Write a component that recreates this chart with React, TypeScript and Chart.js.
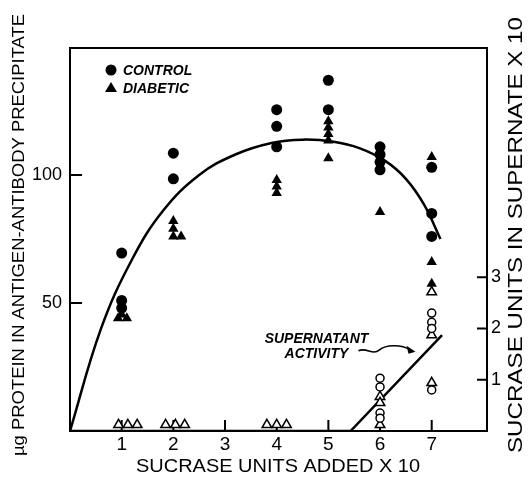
import React, { useEffect, useRef } from "react";
import { Chart, registerables } from "chart.js";

Chart.register(...registerables);

// ---- tick labels ----
const xTickValues = [1, 2, 3, 4, 5, 6, 7];
const leftTickValues = [50, 100];
const rightTickValues = [1, 2, 3];

// ---- Control (filled circles), µg protein in precipitate ----
const controlX = [1, 1, 1, 2, 2, 4, 4, 4, 5, 5, 6, 6, 6, 6, 7, 7, 7];
const controlY = [69.5, 51, 48, 108.5, 98.5, 125.5, 119, 111, 137, 125.5, 111, 108, 105, 102, 103, 85, 76];

// ---- Diabetic (filled triangles), µg protein in precipitate ----
const diabeticX = [0.93, 1, 1.1, 2, 2, 2, 2.15, 4, 4, 4, 5, 5, 5, 5, 5, 6, 7, 7, 7];
const diabeticY = [44, 45.5, 44, 82, 79, 76, 76, 98, 95.5, 93, 121, 118.5, 116, 113.5, 106.5, 85.5, 107, 66, 57.5];

// ---- Supernatant sucrase units x10 (right axis) ----
const controlSupX = [6, 6, 6, 6, 7, 7, 7, 7];
const controlSupY = [1.03, 0.86, 0.35, 0.25, 2.3, 2.12, 2.0, 0.8];
const diabeticSupX = [0.94, 1.12, 1.3, 1.85, 2.04, 2.22, 3.81, 4.0, 4.19, 6, 6, 6, 7, 7, 7];
const diabeticSupY = [0.12, 0.12, 0.12, 0.12, 0.12, 0.12, 0.12, 0.12, 0.12, 0.67, 0.55, 0.12, 2.71, 1.87, 0.94];

// ---- drawn curves ----
const curveX = [0, 0.6, 1.2, 1.8, 2.5, 3.2, 3.9, 4.5, 5.1, 5.6, 6.1, 6.5, 6.85, 7.17];
const curveY = [0, 40, 67, 86, 100, 108, 112.5, 113.8, 113, 110.5, 105.5, 98.5, 88.5, 75];
const supLineX = [0, 5.43, 7.2];
const supLineY = [0, 0, 1.87];

const FONT = "'Liberation Sans', Arial, sans-serif";

const pts = (xs: number[], ys: number[]) => xs.map((x, i) => ({ x, y: ys[i] }));

function stretchedText(ctx: any, text: string, x: number, y: number, width: number, rot: number) {
  ctx.save();
  ctx.translate(x, y);
  ctx.rotate(rot);
  const w = ctx.measureText(text).width;
  ctx.scale(width / w, 1);
  ctx.fillText(text, 0, 0);
  ctx.restore();
}

const decor = {
  id: "decor",
  beforeDatasetsDraw(chart: any) {
    const { ctx, chartArea: a, scales } = chart;
    ctx.save();
    ctx.strokeStyle = "#000";
    ctx.lineWidth = 2;
    ctx.strokeRect(a.left, a.top, a.right - a.left, a.bottom - a.top);
    ctx.beginPath();
    xTickValues.forEach((v) => {
      const p = scales.x.getPixelForValue(v);
      ctx.moveTo(p, a.bottom);
      ctx.lineTo(p, a.bottom - 11);
    });
    leftTickValues.forEach((v) => {
      const p = scales.y.getPixelForValue(v);
      ctx.moveTo(a.left, p);
      ctx.lineTo(a.left + 12, p);
    });
    rightTickValues.forEach((v) => {
      const p = scales.y2.getPixelForValue(v);
      ctx.moveTo(a.right, p);
      ctx.lineTo(a.right - 10, p);
    });
    ctx.stroke();
    ctx.restore();
  },
  afterDraw(chart: any) {
    const { ctx, chartArea: a, scales } = chart;
    ctx.save();
    ctx.fillStyle = "#000";
    ctx.strokeStyle = "#000";

    // tick labels
    ctx.textBaseline = "middle";
    ctx.font = `19px ${FONT}`;
    ctx.textAlign = "center";
    xTickValues.forEach((v) => {
      ctx.fillText(String(v), scales.x.getPixelForValue(v), a.bottom + 14);
    });
    ctx.font = `18px ${FONT}`;
    ctx.textAlign = "right";
    leftTickValues.forEach((v) => {
      ctx.fillText(String(v), a.left - 8, scales.y.getPixelForValue(v));
    });
    ctx.textAlign = "left";
    rightTickValues.forEach((v) => {
      ctx.fillText(String(v), a.right + 4, scales.y2.getPixelForValue(v));
    });

    // axis titles
    ctx.textAlign = "center";
    ctx.font = `17px ${FONT}`;
    stretchedText(ctx, "\u00b5g PROTEIN IN ANTIGEN-ANTIBODY PRECIPITATE", 19, 235, 442, -Math.PI / 2);
    ctx.font = `21px ${FONT}`;
    stretchedText(ctx, "SUCRASE UNITS IN SUPERNATE X 10", 516, 235, 436, -Math.PI / 2);
    ctx.font = `19px ${FONT}`;
    stretchedText(ctx, "SUCRASE UNITS ADDED X 10", 278, 467, 284, 0);

    // legend
    const lx = a.left + 41;
    const ly1 = a.top + 22;
    const ly2 = a.top + 40;
    ctx.beginPath();
    ctx.arc(lx, ly1, 5.5, 0, Math.PI * 2);
    ctx.fill();
    ctx.beginPath();
    ctx.moveTo(lx, ly2 - 6);
    ctx.lineTo(lx + 6, ly2 + 4);
    ctx.lineTo(lx - 6, ly2 + 4);
    ctx.closePath();
    ctx.fill();
    ctx.textAlign = "left";
    ctx.font = `italic bold 14px ${FONT}`;
    ctx.fillText("CONTROL", lx + 12, ly1 + 1);
    ctx.fillText("DIABETIC", lx + 12, ly2 + 1);

    // annotation "SUPERNATANT ACTIVITY"
    const ax = scales.x.getPixelForValue(4.77);
    const ay = scales.y.getPixelForValue(36);
    ctx.textAlign = "center";
    ctx.fillText("SUPERNATANT", ax, ay);
    ctx.fillText("ACTIVITY", ax, ay + 15);
    // wavy arrow
    const sx = ax + 42;
    const sy = ay + 12;
    ctx.lineWidth = 1.6;
    ctx.beginPath();
    ctx.moveTo(sx, sy);
    ctx.bezierCurveTo(sx + 8, sy - 4, sx + 14, sy + 5, sx + 21, sy - 1);
    ctx.bezierCurveTo(sx + 27, sy - 6, sx + 42, sy - 7, sx + 52, sy - 1);
    ctx.stroke();
    const tx = sx + 57;
    const ty = sy + 1;
    ctx.beginPath();
    ctx.moveTo(tx, ty);
    ctx.lineTo(tx - 9, ty - 6);
    ctx.lineTo(tx - 7, ty + 2);
    ctx.closePath();
    ctx.fill();
    ctx.restore();
  },
};

export default function App() {
  const ref = useRef<HTMLCanvasElement | null>(null);
  useEffect(() => {
    document.body.style.margin = "0";
    const canvas = ref.current!;
    const hidden = { display: false };
    const chart = new Chart(canvas, {
      type: "scatter",
      data: {
        datasets: [
          {
            label: "Control",
            data: pts(controlX, controlY),
            yAxisID: "y",
            pointStyle: "circle",
            pointRadius: 5.5,
            backgroundColor: "#000",
            borderColor: "#000",
            borderWidth: 0,
          },
          {
            label: "Diabetic",
            data: pts(diabeticX, diabeticY),
            yAxisID: "y",
            pointStyle: "triangle",
            pointRadius: 6,
            backgroundColor: "#000",
            borderColor: "#000",
            borderWidth: 0,
          },
          {
            label: "Control supernatant",
            data: pts(controlSupX, controlSupY),
            yAxisID: "y2",
            pointStyle: "circle",
            pointRadius: 4,
            backgroundColor: "#fff",
            borderColor: "#000",
            borderWidth: 1.5,
          },
          {
            label: "Diabetic supernatant",
            data: pts(diabeticSupX, diabeticSupY),
            yAxisID: "y2",
            pointStyle: "triangle",
            pointRadius: 5.5,
            backgroundColor: "#fff",
            borderColor: "#000",
            borderWidth: 1.5,
          },
          {
            type: "line",
            label: "Curve",
            data: pts(curveX, curveY),
            yAxisID: "y",
            borderColor: "#000",
            borderWidth: 2.5,
            pointRadius: 0,
            tension: 0.4,
            fill: false,
          } as any,
          {
            type: "line",
            label: "Supernatant activity",
            data: pts(supLineX, supLineY),
            yAxisID: "y2",
            borderColor: "#000",
            borderWidth: 2.5,
            pointRadius: 0,
            tension: 0,
            fill: false,
          } as any,
        ],
      },
      options: {
        animation: false,
        responsive: false,
        events: [],
        layout: { padding: { top: 48, left: 0, right: 0, bottom: 0 } },
        plugins: { legend: { display: false }, tooltip: { enabled: false } },
        scales: {
          x: {
            type: "linear",
            min: 0,
            max: 8.07,
            position: "bottom",
            grid: { display: false },
            border: { display: false },
            ticks: hidden,
            afterFit: (s: any) => {
              s.height = 49;
            },
          },
          y: {
            type: "linear",
            min: 0,
            max: 149.6,
            position: "left",
            grid: { display: false },
            border: { display: false },
            ticks: hidden,
            afterFit: (s: any) => {
              s.width = 70;
            },
          },
          y2: {
            type: "linear",
            min: 0,
            max: 7.47,
            position: "right",
            grid: { display: false },
            border: { display: false },
            ticks: hidden,
            afterFit: (s: any) => {
              s.width = 41;
            },
          },
        },
      },
      plugins: [decor],
    });
    return () => chart.destroy();
  }, []);
  return (
    <div style={{ width: 528, height: 480 }}>
      <canvas ref={ref} width={528} height={480} style={{ width: 528, height: 480, display: "block" }} />
    </div>
  );
}
